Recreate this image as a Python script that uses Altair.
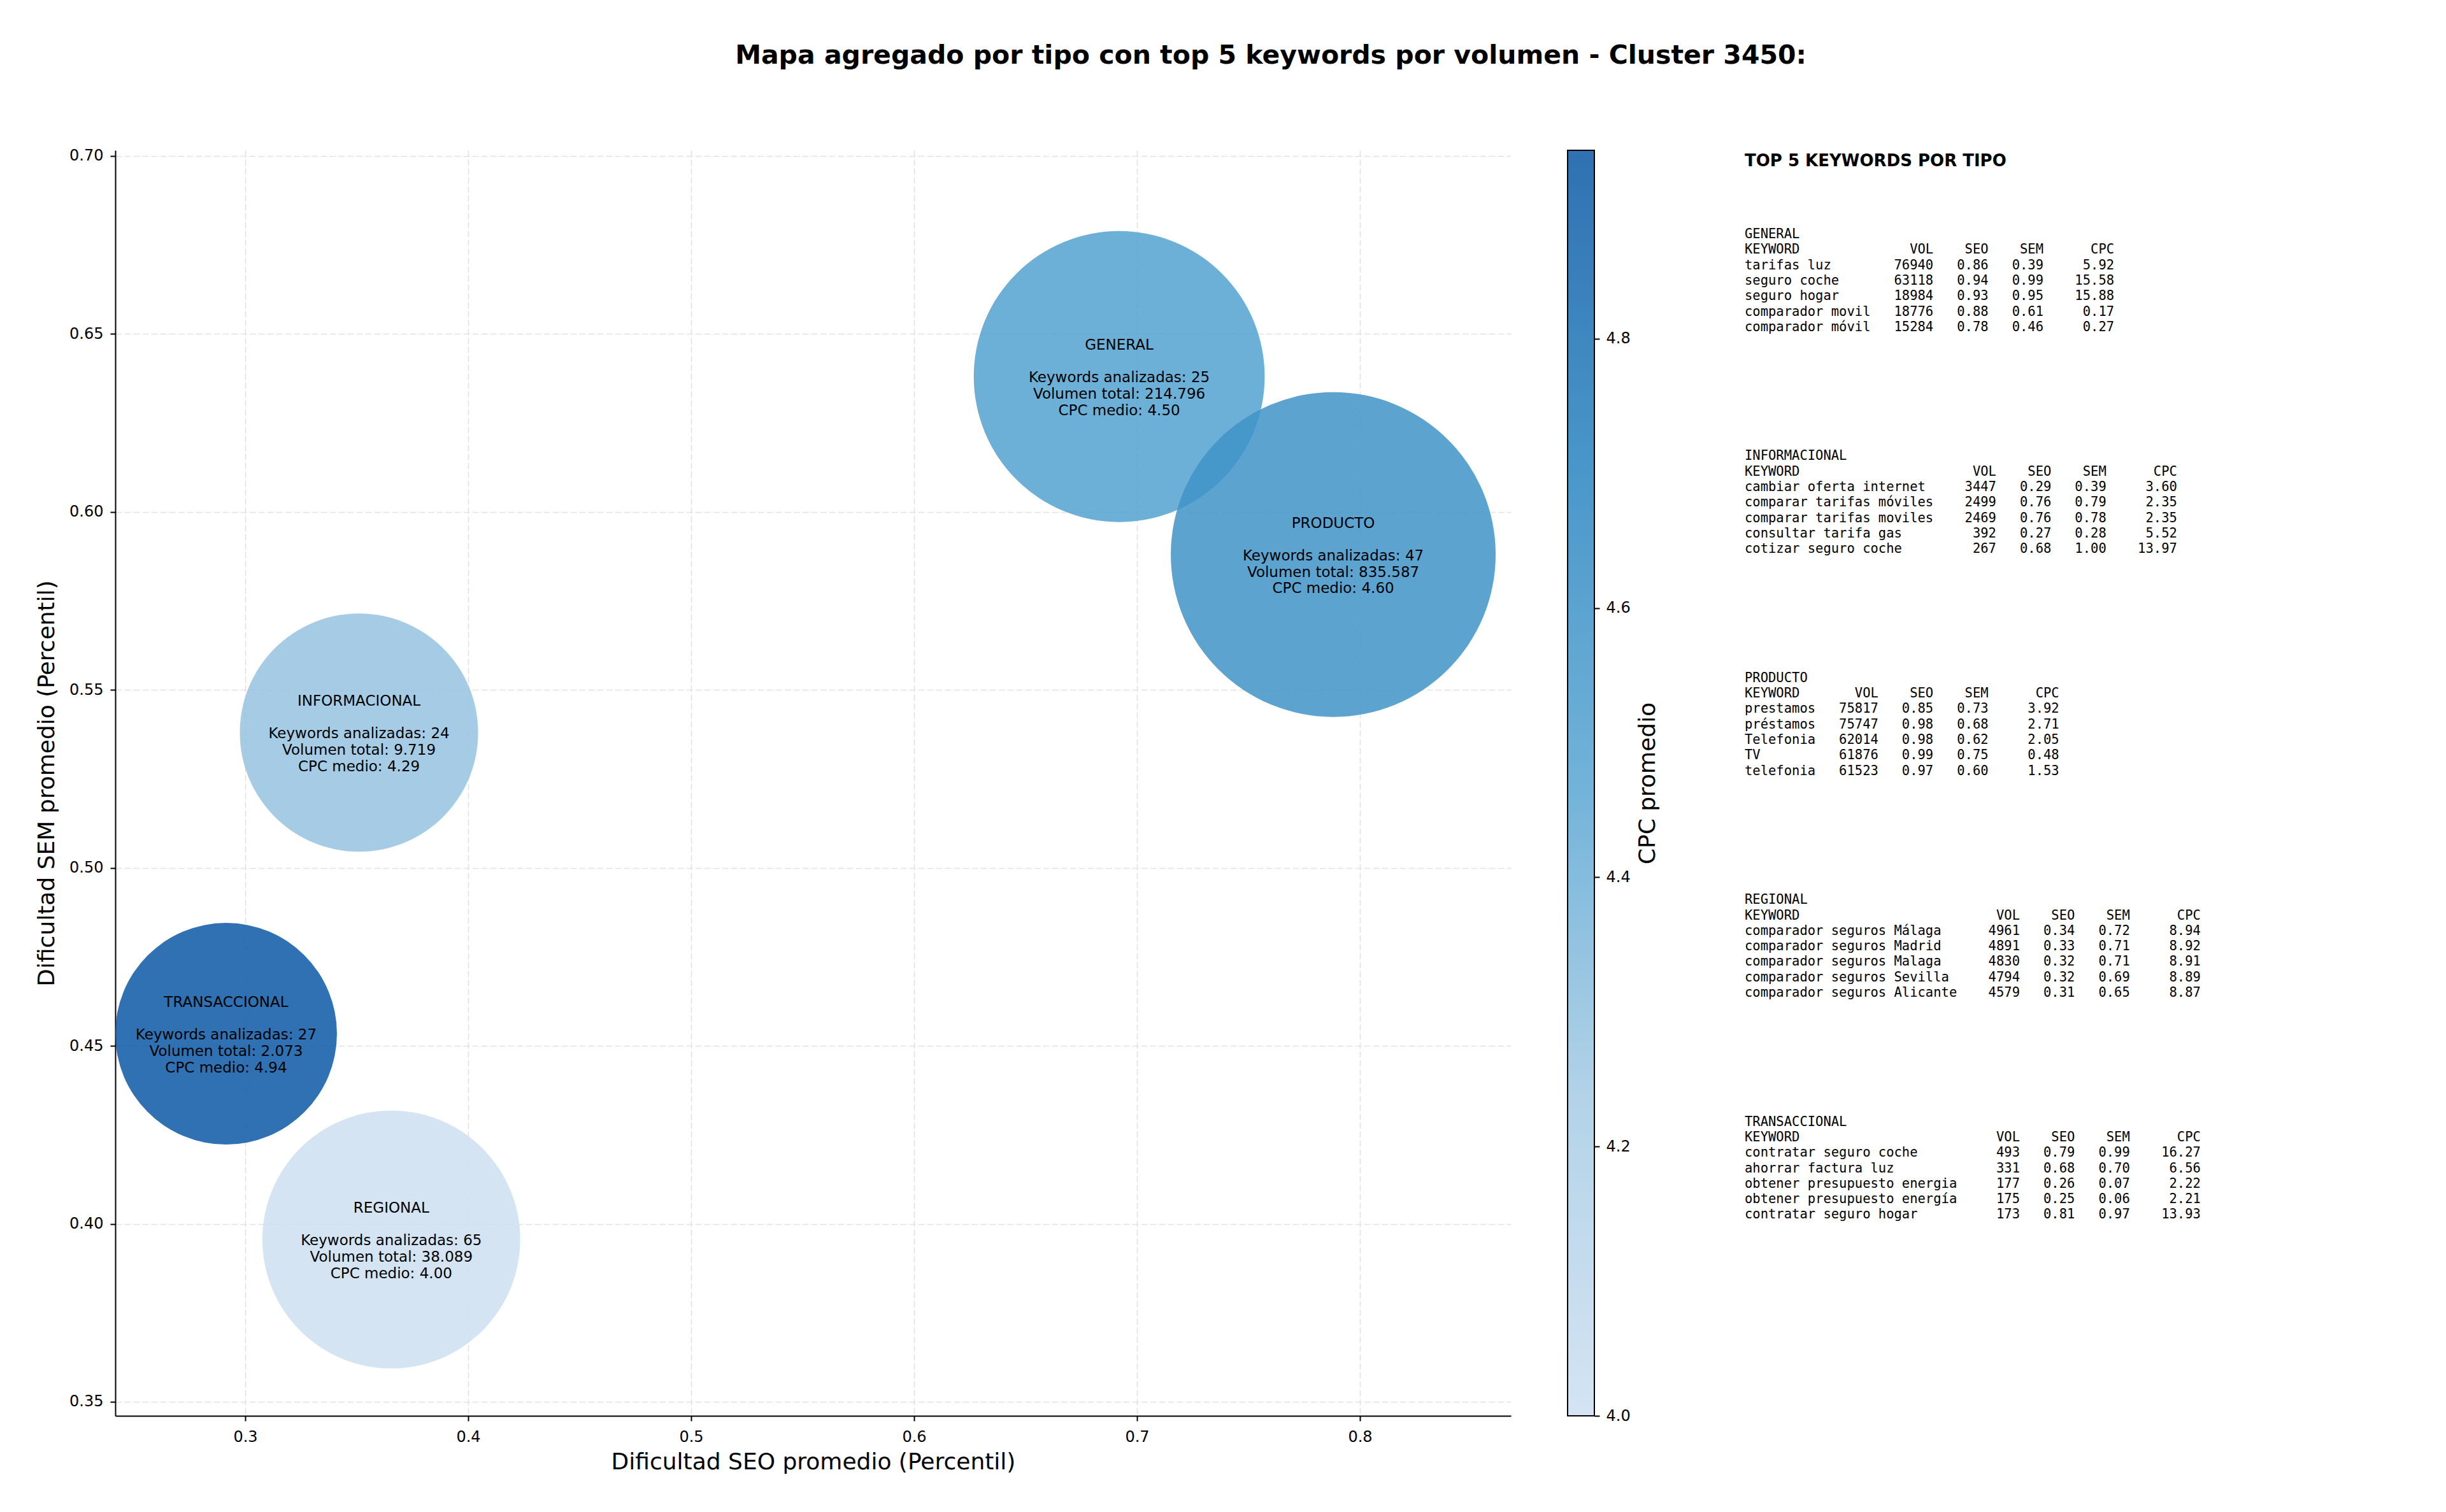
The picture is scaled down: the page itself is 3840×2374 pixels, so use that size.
import altair as alt
import pandas as pd

# ---------------- aggregated values per tipo ----------------
tipos = ["GENERAL", "INFORMACIONAL", "PRODUCTO", "REGIONAL", "TRANSACCIONAL"]
seo_medio = [0.692, 0.351, 0.788, 0.3655, 0.2914]
sem_medio = [0.638, 0.538, 0.588, 0.3956, 0.4534]
keywords_analizadas = [25, 24, 47, 65, 27]
volumen_total = [214796, 9719, 835587, 38089, 2073]
cpc_medio = [4.50, 4.29, 4.60, 4.00, 4.94]

# ---------------- top 5 keywords per tipo ----------------
top_kw = {
    "GENERAL": ["tarifas luz", "seguro coche", "seguro hogar", "comparador movil", "comparador móvil"],
    "INFORMACIONAL": ["cambiar oferta internet", "comparar tarifas móviles", "comparar tarifas moviles",
                      "consultar tarifa gas", "cotizar seguro coche"],
    "PRODUCTO": ["prestamos", "préstamos", "Telefonia", "TV", "telefonia"],
    "REGIONAL": ["comparador seguros Málaga", "comparador seguros Madrid", "comparador seguros Malaga",
                 "comparador seguros Sevilla", "comparador seguros Alicante"],
    "TRANSACCIONAL": ["contratar seguro coche", "ahorrar factura luz", "obtener presupuesto energia",
                      "obtener presupuesto energía", "contratar seguro hogar"],
}
top_vol = {
    "GENERAL": [76940, 63118, 18984, 18776, 15284],
    "INFORMACIONAL": [3447, 2499, 2469, 392, 267],
    "PRODUCTO": [75817, 75747, 62014, 61876, 61523],
    "REGIONAL": [4961, 4891, 4830, 4794, 4579],
    "TRANSACCIONAL": [493, 331, 177, 175, 173],
}
top_seo = {
    "GENERAL": [0.86, 0.94, 0.93, 0.88, 0.78],
    "INFORMACIONAL": [0.29, 0.76, 0.76, 0.27, 0.68],
    "PRODUCTO": [0.85, 0.98, 0.98, 0.99, 0.97],
    "REGIONAL": [0.34, 0.33, 0.32, 0.32, 0.31],
    "TRANSACCIONAL": [0.79, 0.68, 0.26, 0.25, 0.81],
}
top_sem = {
    "GENERAL": [0.39, 0.99, 0.95, 0.61, 0.46],
    "INFORMACIONAL": [0.39, 0.79, 0.78, 0.28, 1.00],
    "PRODUCTO": [0.73, 0.68, 0.62, 0.75, 0.60],
    "REGIONAL": [0.72, 0.71, 0.71, 0.69, 0.65],
    "TRANSACCIONAL": [0.99, 0.70, 0.07, 0.06, 0.97],
}
top_cpc = {
    "GENERAL": [5.92, 15.58, 15.88, 0.17, 0.27],
    "INFORMACIONAL": [3.60, 2.35, 2.35, 5.52, 13.97],
    "PRODUCTO": [3.92, 2.71, 2.05, 0.48, 1.53],
    "REGIONAL": [8.94, 8.92, 8.91, 8.89, 8.87],
    "TRANSACCIONAL": [16.27, 6.56, 2.22, 2.21, 13.93],
}

x_ticks = [0.3, 0.4, 0.5, 0.6, 0.7, 0.8]
y_ticks = [0.35, 0.40, 0.45, 0.50, 0.55, 0.60, 0.65, 0.70]
cbar_ticks = [4.0, 4.2, 4.4, 4.6, 4.8]

title_text = "Mapa agregado por tipo con top 5 keywords por volumen - Cluster 3450:"
panel_title = "TOP 5 KEYWORDS POR TIPO"

# ---------------- styling ----------------
FONT = "DejaVu Sans"
MONO = "DejaVu Sans Mono"
cmap_colors = ["#cddff1", "#a6cbe4", "#58a5d2", "#2984c0", "#0a58a4"]
PLOT_W, PLOT_H = 2191, 1987
ALPHA = 0.85
NBSP = "\u00a0"
LINE_H = 25.8


def fmt_miles(v):
    return f"{v:,}".replace(",", ".")


df = pd.DataFrame({
    "tipo": tipos,
    "seo": seo_medio,
    "sem": sem_medio,
    "n": keywords_analizadas,
    "volumen": volumen_total,
    "cpc": cpc_medio,
})
df["stats"] = [
    f"Keywords analizadas: {n}\nVolumen total: {fmt_miles(v)}\nCPC medio: {c:.2f}"
    for n, v, c in zip(keywords_analizadas, volumen_total, cpc_medio)
]

cmin, cmax = min(cpc_medio), max(cpc_medio)
nstops = len(cmap_colors)
color_domain = [cmin + (cmax - cmin) * i / (nstops - 1) for i in range(nstops)]

x_enc = alt.X(
    "seo:Q",
    scale=alt.Scale(domain=[0.2417, 0.8677], nice=False, zero=False),
    axis=alt.Axis(values=x_ticks, format=".1f", title="Dificultad SEO promedio (Percentil)",
                  labelPadding=13, titlePadding=10),
)
y_enc = alt.Y(
    "sem:Q",
    scale=alt.Scale(domain=[0.34606, 0.70156], nice=False, zero=False),
    axis=alt.Axis(values=y_ticks, format=".2f", title="Dificultad SEM promedio (Percentil)",
                  labelPadding=11, titlePadding=16),
)

bubbles = alt.Chart(df).mark_circle(opacity=ALPHA).encode(
    x=x_enc,
    y=y_enc,
    size=alt.Size(
        "volumen:Q",
        scale=alt.Scale(type="pow", exponent=0.25,
                        domain=[min(volumen_total), max(volumen_total)],
                        range=[121104, 260100], zero=False, nice=False),
        legend=None,
    ),
    color=alt.Color(
        "cpc:Q",
        scale=alt.Scale(domain=color_domain, range=cmap_colors, zero=False, nice=False),
        legend=None,
    ),
)

# label block: tipo, blank line, 3 stats lines ("Keywords" line on the bubble centre)
name_labels = alt.Chart(df).mark_text(
    font=FONT, fontSize=23, align="center", baseline="middle", color="black", dy=-49,
).encode(x="seo:Q", y="sem:Q", text="tipo:N")
stat_labels = alt.Chart(df).mark_text(
    font=FONT, fontSize=23, lineHeight=LINE_H, lineBreak="\n",
    align="center", baseline="middle", color="black", dy=2,
).encode(x="seo:Q", y="sem:Q", text="stats:N")

main = alt.layer(bubbles, name_labels, stat_labels).properties(width=PLOT_W, height=PLOT_H)

# ---------------- colorbar ----------------
grad = alt.LinearGradient(
    gradient="linear",
    stops=[alt.GradientStop(offset=i / (nstops - 1), color=c) for i, c in enumerate(cmap_colors)],
    x1=0, x2=0, y1=1, y2=0,
)
cbar = alt.Chart(pd.DataFrame({"cpc": cpc_medio})).mark_rect(
    fill=grad, fillOpacity=ALPHA, stroke="black", strokeWidth=2,
).encode(
    y=alt.Y("min(cpc):Q",
            scale=alt.Scale(domain=[cmin, cmax], nice=False, zero=False),
            axis=alt.Axis(orient="right", values=cbar_ticks, format=".1f", title="CPC promedio",
                          titleAngle=270, grid=False, domain=False, labelPadding=10,
                          titlePadding=46)),
    y2=alt.Y2("max(cpc)"),
    x=alt.value(0),
    x2=alt.value(42),
).properties(width=42, height=PLOT_H)

# ---------------- keyword table panel ----------------
rows = []
for b, t in enumerate(tipos):
    kws = top_kw[t]
    w = max(len(k) for k in kws)
    lines = [t, f"{'KEYWORD':<{w}}  {'VOL':>6} {'SEO':>6} {'SEM':>6} {'CPC':>8}"]
    for k, v, s1, s2, c in zip(kws, top_vol[t], top_seo[t], top_sem[t], top_cpc[t]):
        lines.append(f"{k:<{w}}  {v:>6} {s1:>6.2f} {s2:>6.2f} {c:>8.2f}")
    for j, ln in enumerate(lines):
        rows.append({"line": ln.replace(" ", NBSP), "ypos": 132 + b * 348.4 + j * 24.3})
df_lines = pd.DataFrame(rows)
df_head = pd.DataFrame({"line": [panel_title], "ypos": [17]})

tscale = alt.Scale(domain=[0, PLOT_H], reverse=True, nice=False, zero=False)
head = alt.Chart(df_head).mark_text(
    font=FONT, fontWeight="bold", fontSize=26, align="left", baseline="middle", color="black",
).encode(x=alt.value(147), y=alt.Y("ypos:Q", scale=tscale, axis=None), text="line:N")
body = alt.Chart(df_lines).mark_text(
    font=MONO, fontSize=20.5, align="left", baseline="middle", color="black",
).encode(x=alt.value(147), y=alt.Y("ypos:Q", scale=tscale, axis=None), text="line:N")
table = alt.layer(head, body).properties(width=870, height=PLOT_H)

chart = alt.hconcat(main, cbar, table, spacing=89, bounds="flush").properties(
    title=alt.TitleParams(
        text=title_text, font=FONT, fontSize=41, fontWeight="bold", color="black",
        anchor="start", align="center", frame="group", dx=1814, offset=124,
    ),
    padding={"left": 55, "top": 66, "right": 10, "bottom": 10},
    background="white",
).configure_view(stroke=None).configure_axis(
    labelFont=FONT, titleFont=FONT, labelFontSize=24, titleFontSize=36,
    labelColor="black", titleColor="black", titleFontWeight="normal",
    tickColor="black", domainColor="black", domainWidth=2, tickWidth=2, tickSize=8,
    gridColor="#e2e2e2", gridDash=[10, 4], gridWidth=1.6,
)

chart.save("out.html", embed_options={"renderer": "svg", "actions": False})
